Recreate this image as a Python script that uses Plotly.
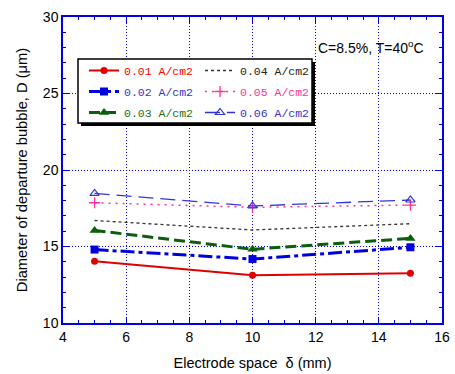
import plotly.graph_objects as go

x_vals = [5, 10, 15]
d_001 = [14.03, 13.12, 13.25]
d_002 = [14.8, 14.18, 14.95]
d_003 = [16.05, 14.82, 15.53]
d_004 = [16.7, 16.08, 16.49]
d_005 = [17.86, 17.56, 17.71]
d_006 = [18.47, 17.65, 18.04]
names = ["0.01 A/cm2", "0.02 A/cm2", "0.03 A/cm2", "0.04 A/cm2", "0.05 A/cm2", "0.06 A/cm2"]
text_colors = ["#ff0000", "#3333cc", "#1a6e1a", "#222222", "#ff3399", "#3333cc"]

AX = "#0000ee"
fig = go.Figure()

def add(y, i, color, width, dash, symbol, msize, legend, mline=None):
    marker = dict(symbol=symbol, size=msize, color=color)
    if mline:
        marker["line"] = dict(color=color, width=mline)
    fig.add_trace(go.Scatter(
        x=x_vals, y=y, mode="lines+markers" if symbol else "lines",
        name=f"<span style='color:{text_colors[i]}'>{names[i]}</span>",
        line=dict(color=color, width=width, dash=dash),
        marker=marker, legend=legend, legendgroup=str(i)))

add(d_001, 0, "#e00000", 2, "solid", "circle", 7, "legend")
add(d_002, 1, "#0000dd", 3, "14px,4px,4px,4px", "square", 8, "legend")
add(d_003, 2, "#0b5e0b", 3, "11px,5px", "triangle-up", 9, "legend")
add(d_004, 3, "#333333", 1.3, "3px,3px", None, 6, "legend2")
add(d_005, 4, "#ff3399", 1.5, "2px,5px", "cross-thin-open", 8, "legend2", mline=1.3)
add(d_006, 5, "#3333dd", 1.3, "15px,7px", "triangle-up-open", 8, "legend2", mline=1.2)

pw, ph = 379, 306
bx0, bx1, by0, by1 = 78, 312, 59, 123
def px(xp):
    return (xp - 63) / pw
def py(yp):
    return (323 - yp) / ph

fig.add_shape(type="rect", xref="paper", yref="paper",
              x0=px(bx0 + 3), x1=px(bx1 + 3), y0=py(by1 + 3), y1=py(by0 + 3),
              fillcolor="black", line=dict(width=0), layer="above")
fig.add_shape(type="rect", xref="paper", yref="paper",
              x0=px(bx0), x1=px(bx1), y0=py(by1), y1=py(by0),
              fillcolor="white", line=dict(color="black", width=1.5), layer="above")

fig.add_annotation(xref="paper", yref="paper", x=px(316), y=py(47), xanchor="left", yanchor="middle",
                   text="C=8.5%, T=40<sup>o</sup>C", showarrow=False,
                   font=dict(family="Arial, Liberation Sans", size=14, color="black"))

legfont = dict(family="Liberation Mono, DejaVu Sans Mono, monospace", size=11.5)
common = dict(bgcolor="rgba(0,0,0,0)", borderwidth=0, font=legfont, xanchor="left", yanchor="top",
              tracegroupgap=2, orientation="v")
fig.update_layout(
    width=455, height=374,
    margin=dict(l=63, r=13, t=17, b=51, autoexpand=False),
    paper_bgcolor="white", plot_bgcolor="white",
    font=dict(family="Arial, Liberation Sans", size=13, color="black"),
    legend=dict(x=px(84), y=py(56), **common),
    legend2=dict(x=px(200), y=py(56), **common),
    xaxis=dict(range=[4, 16], dtick=2, tick0=4, showline=True, linecolor=AX, linewidth=1.5,
               mirror="ticks", ticks="inside", ticklen=6, tickcolor=AX, automargin=False,
               showgrid=True, gridcolor=AX, griddash="1px,2px", gridwidth=1,
               minor=dict(dtick=0.5, ticks="inside", ticklen=3, tickcolor=AX, showgrid=False),
               zeroline=False, tickfont=dict(size=14),
               title=dict(text="Electrode space  δ (mm)", font=dict(size=14.5), standoff=14)),
    yaxis=dict(range=[10, 30], dtick=5, tick0=10, showline=True, linecolor=AX, linewidth=1.5,
               mirror="ticks", ticks="inside", ticklen=6, tickcolor=AX, automargin=False,
               showgrid=True, gridcolor=AX, griddash="1px,2px", gridwidth=1,
               minor=dict(dtick=1, ticks="inside", ticklen=3, tickcolor=AX, showgrid=False),
               zeroline=False, tickfont=dict(size=14),
               title=dict(text="Diameter of departure bubble, D (μm)", font=dict(size=14.7), standoff=12)),
)

fig.write_html("out.html")
